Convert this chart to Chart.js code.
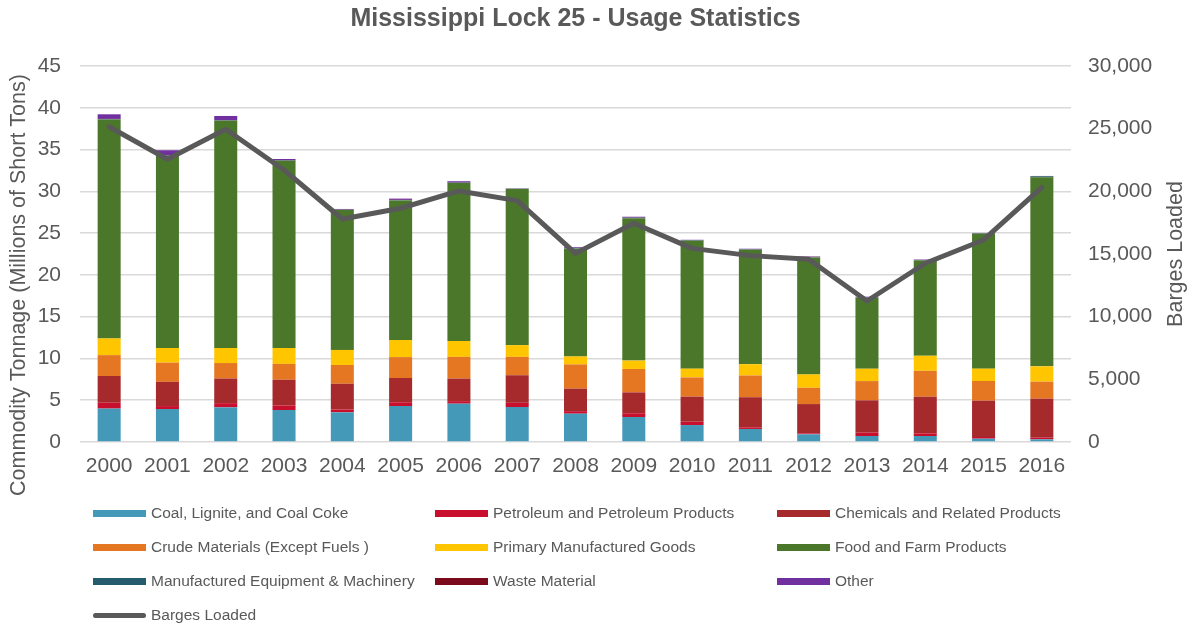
<!DOCTYPE html>
<html>
<head>
<meta charset="utf-8">
<script src="https://cdn.jsdelivr.net/npm/chart.js@4.4.1/dist/chart.umd.min.js"></script>
<style>
  html, body { margin: 0; padding: 0; background: #fff; }
  #wrap { position: relative; width: 1190px; height: 626px; font-family: "Liberation Sans", Arial, sans-serif; }
  #grafico { position: absolute; left: 0; top: 0; }
  .leg-item { position: absolute; display: flex; align-items: center; height: 20px; font-size: 15.5px; color: #595959; white-space: nowrap; }
  .leg-sw { width: 53px; height: 7px; margin-right: 5px; }
  .leg-sw.linha { height: 5px; border-radius: 3px; }
</style>
</head>
<body>
<div id="wrap">
  <canvas id="grafico" width="1190" height="626"></canvas>
  <div id="legenda"></div>
</div>
<script>
// ====== DADOS ======
const anos = ['2000', '2001', '2002', '2003', '2004', '2005', '2006', '2007', '2008',
  '2009', '2010', '2011', '2012', '2013', '2014', '2015', '2016'];

// millions of short tons
const carvao = [4.0, 3.95, 4.15, 3.83, 3.55, 4.31, 4.59, 4.19, 3.39, 2.99, 2.03, 1.56, 0.92, 0.72, 0.72, 0.4, 0.32];
const petroleo = [0.7, 0.35, 0.5, 0.55, 0.35, 0.45, 0.3, 0.5, 0.3, 0.45, 0.4, 0.2, 0.12, 0.4, 0.32, 0.2, 0.2];
const quimicos = [3.2, 2.9, 2.95, 3.07, 3.07, 2.9, 2.7, 3.3, 2.7, 2.5, 3.0, 3.6, 3.5, 3.87, 4.38, 4.35, 4.67];
const brutos = [2.5, 2.3, 1.85, 1.9, 2.25, 2.5, 2.6, 2.2, 2.9, 2.8, 2.3, 2.6, 1.95, 2.3, 3.1, 2.35, 2.03];
const manufaturados = [2.0, 1.75, 1.8, 1.9, 1.8, 2.05, 1.9, 1.4, 0.95, 1.0, 1.05, 1.35, 1.6, 1.48, 1.8, 1.48, 1.84];
const alimentos = [26.2, 23.0, 27.2, 22.4, 16.75, 16.7, 18.9, 18.7, 12.9, 17.05, 15.3, 13.7, 14.0, 8.5, 11.4, 16.15, 22.62];
const equipamentos = [0.05, 0.05, 0.05, 0.05, 0.03, 0.05, 0.05, 0.03, 0.05, 0.05, 0.05, 0.05, 0.05, 0.05, 0.05, 0.05, 0.12];
const residuos = [0.02, 0.02, 0.02, 0.02, 0.02, 0.02, 0.02, 0.02, 0.02, 0.02, 0.02, 0.02, 0.02, 0.02, 0.02, 0.02, 0.02];
const outros = [0.55, 0.6, 0.5, 0.15, 0.07, 0.15, 0.15, 0.02, 0.1, 0.1, 0.05, 0.05, 0.05, 0.05, 0.05, 0.02, 0.02];

const barcacas = [25150, 22560, 24950, 21700, 17790, 18650, 20030, 19260, 15050,
  17450, 15450, 14870, 14580, 11250, 14260, 16120, 20320];

const ticksEsq = [0, 45, 5];
const ticksDir = [0, 30000, 5000];

const categorias = [
  { nome: 'Coal, Lignite, and Coal Coke', dados: carvao, cor: '#4599b8' },
  { nome: 'Petroleum and Petroleum Products', dados: petroleo, cor: '#c8102e' },
  { nome: 'Chemicals and Related Products', dados: quimicos, cor: '#a62a2c' },
  { nome: 'Crude Materials (Except Fuels )', dados: brutos, cor: '#e67722' },
  { nome: 'Primary Manufactured Goods', dados: manufaturados, cor: '#ffc600' },
  { nome: 'Food and Farm Products', dados: alimentos, cor: '#4b772b' },
  { nome: 'Manufactured Equipment & Machinery', dados: equipamentos, cor: '#245c6e' },
  { nome: 'Waste Material', dados: residuos, cor: '#7b0a1c' },
  { nome: 'Other', dados: outros, cor: '#7030a0' },
];

const CINZA = '#595959';
const FONTE = '"Liberation Sans", Arial, sans-serif';

// ====== TITULOS DOS EIXOS ======
function textoVertical(c, texto, x, y) {
  c.save();
  c.fillStyle = CINZA;
  c.font = '21.5px ' + FONTE;
  c.textAlign = 'center';
  c.textBaseline = 'middle';
  c.translate(x, y);
  c.rotate(-Math.PI / 2);
  c.fillText(texto, 0, 0);
  c.restore();
}

const titulosEixos = {
  id: 'titulosEixos',
  afterDraw(chart) {
    textoVertical(chart.ctx, 'Commodity Tonnage (Millions of Short Tons)', 19, 285);
    textoVertical(chart.ctx, 'Barges Loaded', 1176, 254);
  }
};

// ====== GRAFICO ======
const datasets = categorias.map(cat => ({
  type: 'bar',
  label: cat.nome,
  data: cat.dados,
  backgroundColor: cat.cor,
  borderWidth: 0,
  stack: 'tonelagem',
  yAxisID: 'y',
  order: 1,
  barPercentage: 0.395,
  categoryPercentage: 1,
}));

datasets.push({
  type: 'line',
  label: 'Barges Loaded',
  data: barcacas,
  borderColor: CINZA,
  borderWidth: 5,
  pointRadius: 0,
  tension: 0,
  borderCapStyle: 'round',
  borderJoinStyle: 'round',
  yAxisID: 'y1',
  order: 0,
});

const chart = new Chart(document.getElementById('grafico'), {
  data: { labels: anos, datasets },
  options: {
    responsive: false,
    animation: false,
    // room under the x axis for the html legend
    layout: { padding: { bottom: 136 } },
    plugins: {
      legend: { display: false },
      tooltip: { enabled: false },
      title: {
        display: true,
        text: 'Mississippi Lock 25 - Usage Statistics',
        fullSize: false,
        color: CINZA,
        font: { size: 25, weight: 'bold', family: FONTE },
        padding: { top: 4, bottom: 32 },
      },
    },
    scales: {
      x: {
        stacked: true,
        grid: { display: false, drawTicks: false },
        border: { display: false },
        ticks: { color: CINZA, font: { size: 21, family: FONTE }, padding: 12, maxRotation: 0 },
        afterFit: s => { s.height = 48; },
      },
      y: {
        stacked: true,
        position: 'left',
        min: ticksEsq[0],
        max: ticksEsq[1],
        grid: { color: '#d9d9d9', lineWidth: 1.5, drawTicks: false },
        border: { display: false },
        ticks: { stepSize: ticksEsq[2], color: CINZA, font: { size: 21, family: FONTE }, padding: 19 },
        afterFit: s => { s.width = 80; },
      },
      y1: {
        position: 'right',
        min: ticksDir[0],
        max: ticksDir[1],
        grid: { display: false, drawTicks: false },
        border: { display: false },
        ticks: {
          stepSize: ticksDir[2],
          color: CINZA,
          font: { size: 21, family: FONTE },
          padding: 17,
          callback: v => v.toLocaleString('en-US'),
        },
        afterFit: s => { s.width = 119; },
      },
    },
  },
  plugins: [titulosEixos],
});

// ====== LEGENDA ======
const legenda = document.getElementById('legenda');
const colunasX = [93, 435, 777];
const linhasY = [513, 547, 581, 615];
const itensLegenda = categorias.map(c => ({ nome: c.nome, cor: c.cor, linha: false }))
  .concat([{ nome: 'Barges Loaded', cor: CINZA, linha: true }]);

itensLegenda.forEach((item, i) => {
  const div = document.createElement('div');
  div.className = 'leg-item';
  div.style.left = colunasX[i % 3] + 'px';
  div.style.top = (linhasY[Math.floor(i / 3)] - 10) + 'px';
  div.innerHTML = `<span class="leg-sw${item.linha ? ' linha' : ''}" style="background:${item.cor}"></span>${item.nome}`;
  legenda.appendChild(div);
});
</script>
</body>
</html>
